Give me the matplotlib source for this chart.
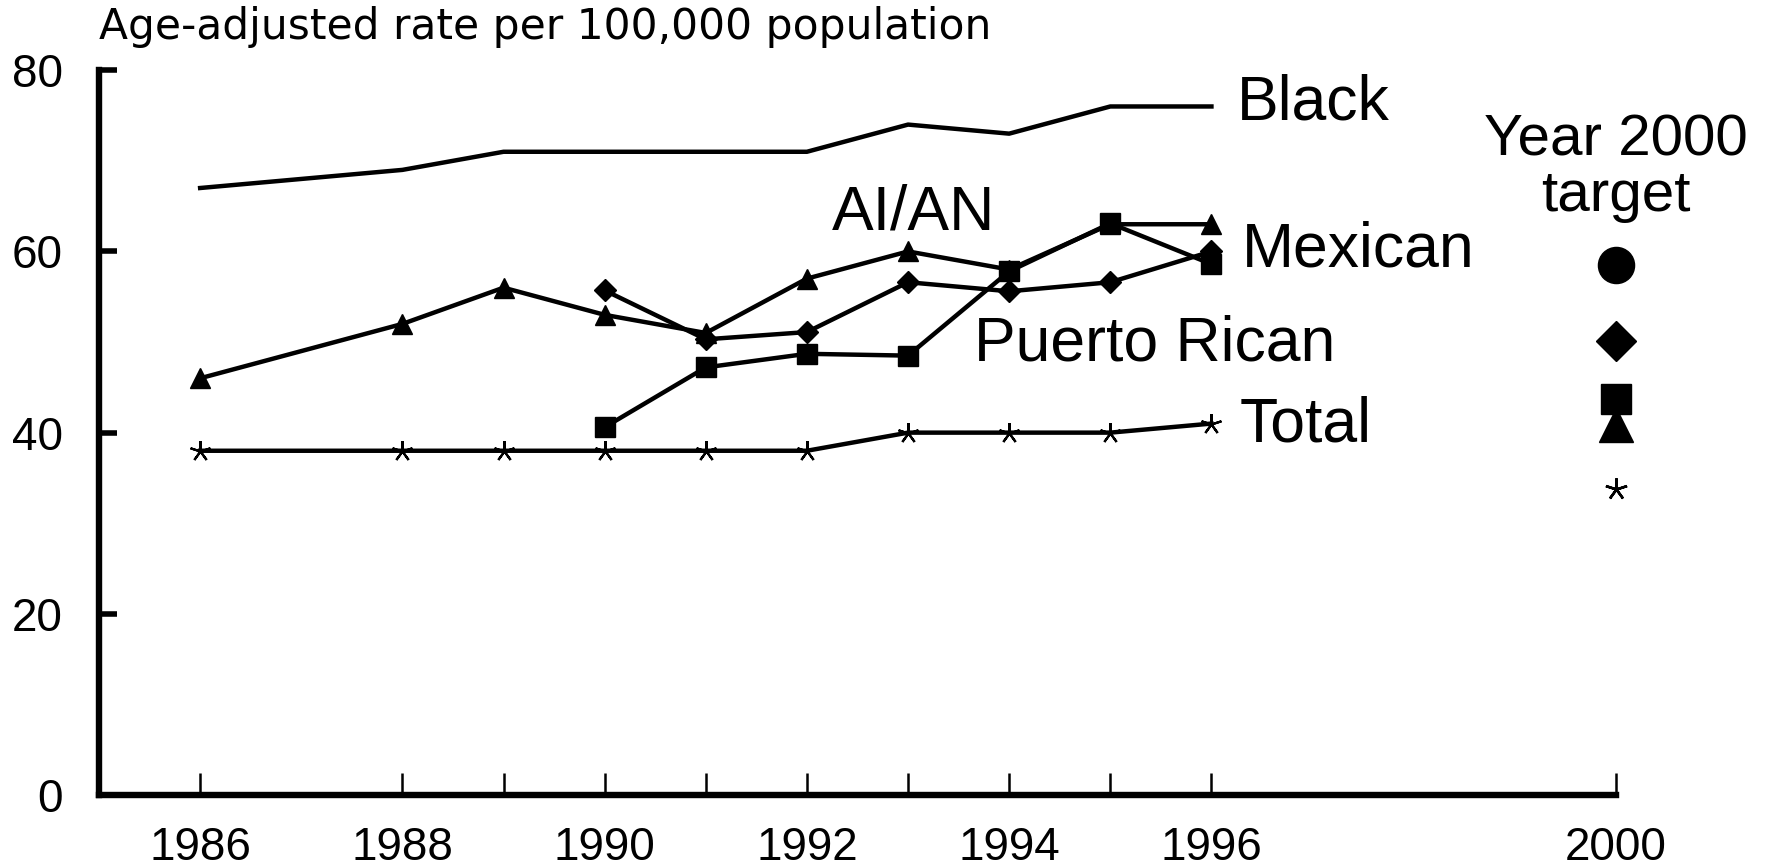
import matplotlib
matplotlib.use("Agg")
import matplotlib.pyplot as plt

plt.rcParams["font.family"] = ["Liberation Sans", "DejaVu Sans"]

# data
years_black = [1986, 1988, 1989, 1990, 1991, 1992, 1993, 1994, 1995, 1996]
black = [67, 69, 71, 71, 71, 71, 74, 73, 76, 76]

years_aian = [1986, 1988, 1989, 1990, 1991, 1992, 1993, 1994, 1995, 1996]
aian = [46, 52, 56, 53, 51, 57, 60, 58, 63, 63]

years_mex = [1990, 1991, 1992, 1993, 1994, 1995, 1996]
mexican = [55.7, 50.3, 51.1, 56.6, 55.6, 56.6, 60.0]

years_pr = [1990, 1991, 1992, 1993, 1994, 1995, 1996]
puerto_rican = [40.6, 47.2, 48.7, 48.5, 57.8, 63.1, 58.6]

years_total = [1986, 1988, 1989, 1990, 1991, 1992, 1993, 1994, 1995, 1996]
total = [38, 38, 38, 38, 38, 38, 40, 40, 40, 41]

target_year = 2000
target_black = 58.5
target_mex = 50.1
target_pr = 43.7
target_aian = 40.8
target_total = 33.8

xtick_major = [1986, 1988, 1990, 1992, 1994, 1996, 2000]
xtick_minor = [1989, 1991, 1993, 1995]
yticks = [0, 20, 40, 60, 80]

lw = 3.2
asterisk = (5, 2, 0)

fig = plt.figure(figsize=(17.68, 8.67), dpi=100)
ax = fig.add_axes([0.056, 0.083, 0.858, 0.836])

ax.plot(years_black, black, color="black", lw=lw, solid_joinstyle="round")
ax.plot(years_aian, aian, color="black", lw=lw, marker="^", ms=15)
ax.plot(years_mex, mexican, color="black", lw=lw, marker="D", ms=11)
ax.plot(years_pr, puerto_rican, color="black", lw=lw, marker="s", ms=15)
ax.plot(years_total, total, color="black", lw=lw, marker=asterisk, ms=15,
        mew=1.6)

# year 2000 targets
ax.plot(target_year, target_black, "o", color="black", ms=26, clip_on=False)
ax.plot(target_year, target_mex, "D", color="black", ms=20, clip_on=False)
ax.plot(target_year, target_aian, "^", color="black", ms=24, clip_on=False)
ax.plot(target_year, target_pr, "s", color="black", ms=22, clip_on=False)
ax.plot(target_year, target_total, marker=asterisk, color="black", ms=16,
        mew=1.8, clip_on=False)

lab_fs = 45
ax.text(1996.25, 76.4, "Black", fontsize=lab_fs, va="center")
ax.text(1992.25, 64.2, "AI/AN", fontsize=lab_fs, va="center")
ax.text(1996.3, 60.2, "Mexican", fontsize=lab_fs, va="center")
ax.text(1993.65, 49.8, "Puerto Rican", fontsize=lab_fs, va="center")
ax.text(1996.28, 40.8, "Total", fontsize=lab_fs, va="center")
ax.text(2000, 69.2, "Year 2000\ntarget", fontsize=42, ha="center",
        va="center", linespacing=1.05)

ax.set_xlim(1985, 2000)
ax.set_ylim(0, 80)

ax.spines["top"].set_visible(False)
ax.spines["right"].set_visible(False)
ax.spines["left"].set_linewidth(4.6)
ax.spines["bottom"].set_linewidth(4.6)
ax.spines["left"].set_capstyle("projecting")
ax.spines["bottom"].set_capstyle("projecting")

ax.set_xticks(xtick_major)
ax.set_xticks(xtick_minor, minor=True)
ax.set_yticks(yticks)
ax.tick_params(axis="x", which="both", direction="in", length=16, width=1.8,
               pad=22, labelsize=33)
ax.tick_params(axis="y", direction="in", length=13, width=4, pad=26,
               labelsize=33)

fig.text(0.056, 0.955, "Age-adjusted rate per 100,000 population",
         fontsize=30.5, va="baseline", ha="left", family="DejaVu Sans")

fig.savefig("out.png", dpi=100)
